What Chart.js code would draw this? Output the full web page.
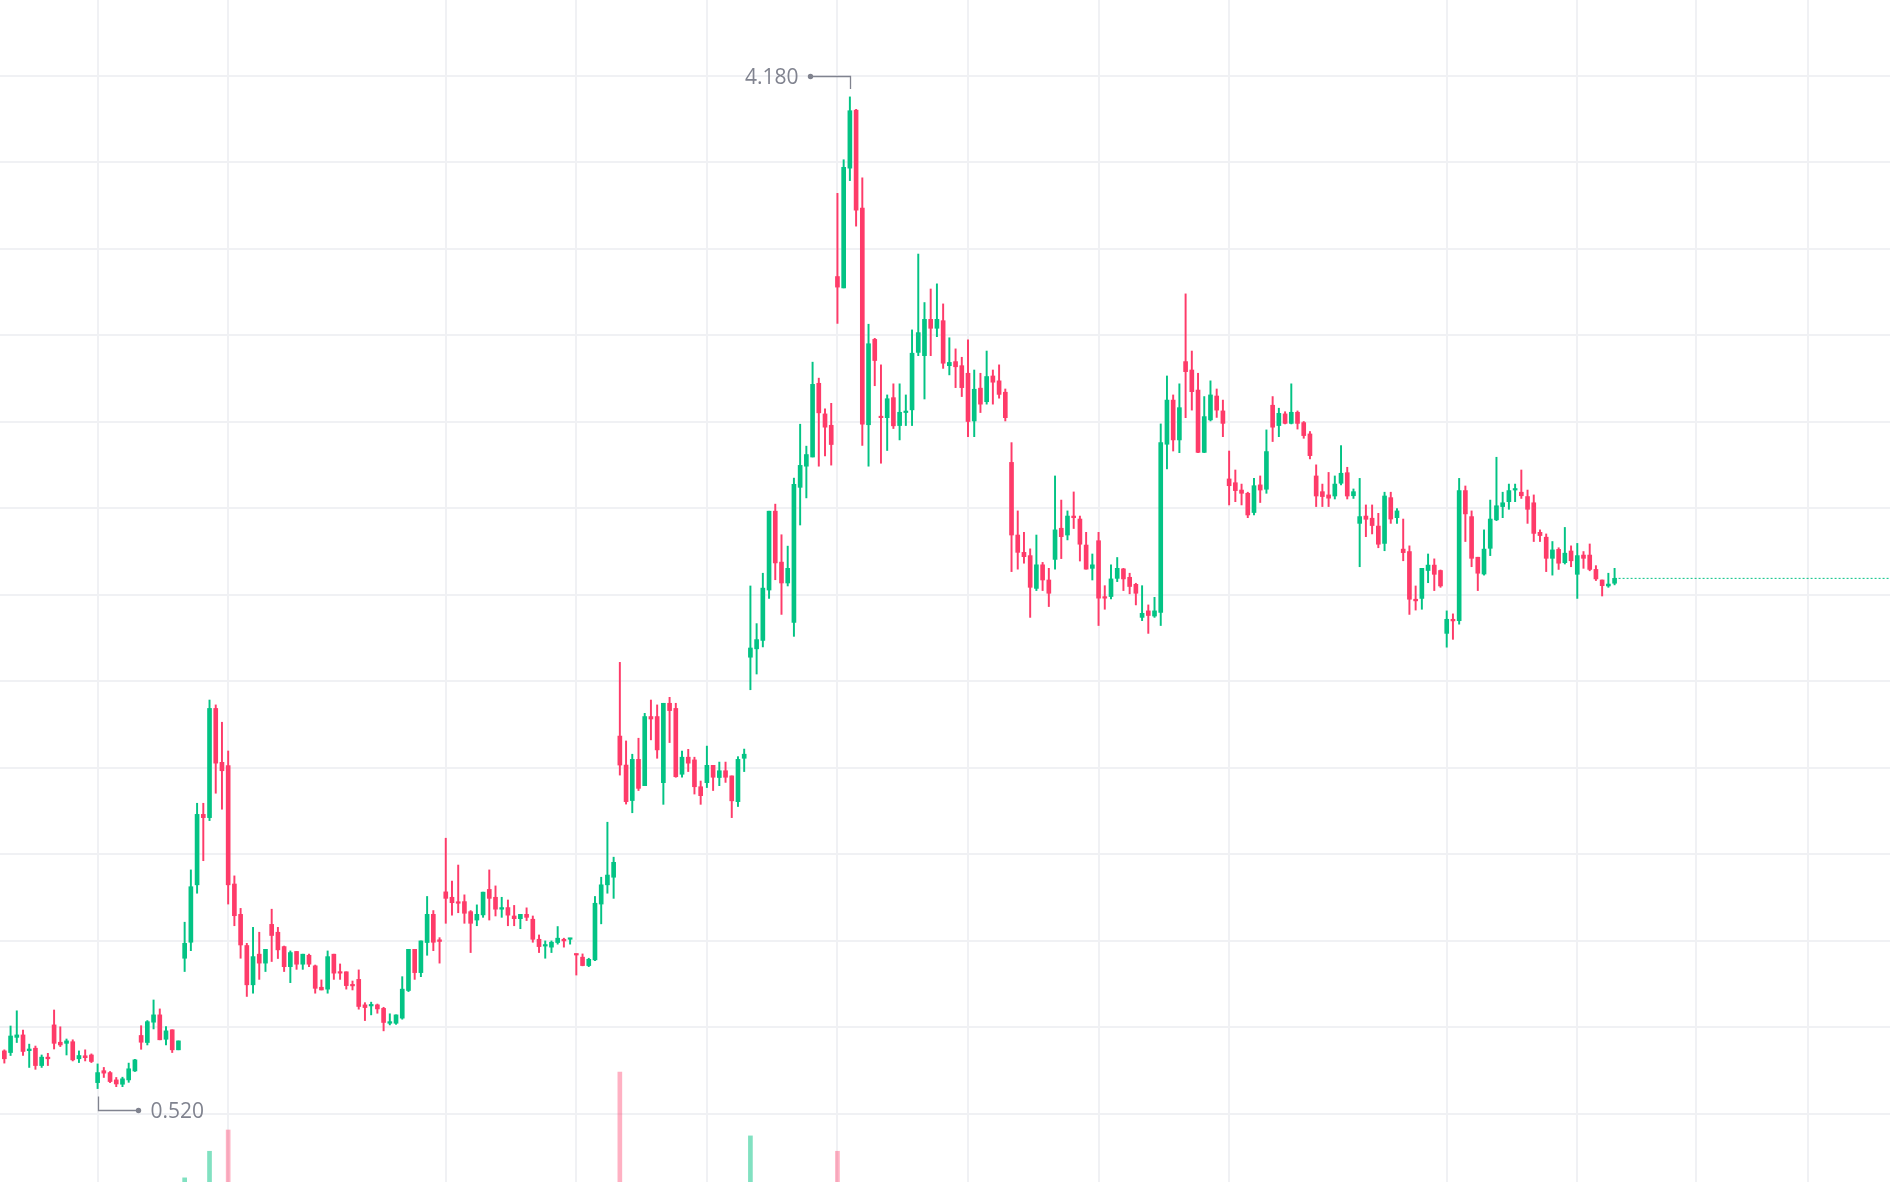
<!DOCTYPE html>
<html>
<head>
<meta charset="utf-8">
<title>Candles</title>
<script src="https://cdn.jsdelivr.net/npm/chart.js@4.4.1/dist/chart.umd.min.js"></script>
<style>
  html, body { margin: 0; padding: 0; background: #ffffff; }
  #wrap { position: relative; width: 1890px; height: 1182px; }
</style>
</head>
<body>
<div id="wrap"><canvas id="klineChart"></canvas></div>
<script>
// Candle values (index = candle number, left to right)
const opens = [0.659,0.653,0.709,0.718,0.660,0.669,0.605,0.636,0.755,0.691,0.687,0.693,0.630,0.641,0.644,0.542,0.586,0.579,0.552,0.536,
  0.552,0.585,0.716,0.690,0.765,0.792,0.702,0.737,0.663,1.001,1.060,1.272,1.532,1.520,1.923,1.724,1.712,1.275,1.163,1.048,
  0.903,1.016,0.983,1.126,1.097,1.044,0.970,1.026,0.979,1.012,0.973,0.894,0.887,1.016,0.951,0.951,0.903,0.923,0.829,0.825,
  0.829,0.816,0.761,0.761,0.780,0.882,1.034,0.948,1.059,1.163,1.069,1.246,1.226,1.208,1.210,1.173,1.142,1.161,1.255,1.226,
  1.182,1.188,1.157,1.147,1.163,1.145,1.071,1.046,1.042,1.059,1.071,1.071,1.017,1.005,0.974,0.995,1.201,1.272,1.300,1.821,
  1.714,1.583,1.735,1.638,1.893,1.893,1.649,1.942,1.923,1.680,1.743,1.733,1.634,1.649,1.713,1.668,1.693,1.674,1.579,1.739,
  2.112,2.143,2.174,2.360,2.651,2.463,2.386,2.240,2.739,2.817,2.851,3.123,3.010,2.968,3.517,3.475,3.917,4.131,3.770,2.970,
  3.285,2.999,2.996,3.070,2.967,3.015,3.025,3.237,3.225,3.359,3.326,3.354,3.188,3.203,3.188,3.160,2.984,3.105,3.055,3.150,
  3.132,3.090,2.831,2.563,2.499,2.487,2.366,2.453,2.397,2.473,2.588,2.563,2.633,2.622,2.526,2.440,2.542,2.333,2.336,2.403,
  2.438,2.407,2.381,2.259,2.283,2.264,2.277,2.898,3.061,2.914,3.203,3.172,3.098,2.868,2.988,3.076,3.021,2.770,2.756,2.729,
  2.717,2.646,2.748,2.732,3.042,2.967,3.010,2.975,3.016,2.978,2.936,2.781,2.723,2.711,2.707,2.754,2.793,2.708,2.606,2.633,
  2.625,2.596,2.532,2.701,2.627,2.511,2.502,2.326,2.329,2.432,2.452,2.432,2.200,2.252,2.247,2.727,2.631,2.481,2.419,2.514,
  2.619,2.668,2.686,2.729,2.721,2.705,2.682,2.573,2.555,2.477,2.510,2.461,2.504,2.418,2.489,2.489,2.436,2.397,2.375,2.385];
const highs = [0.663,0.751,0.807,0.736,0.684,0.677,0.644,0.650,0.810,0.748,0.703,0.700,0.659,0.663,0.648,0.611,0.598,0.583,0.561,0.562,
  0.614,0.628,0.752,0.771,0.847,0.814,0.749,0.737,0.696,1.134,1.327,1.573,1.573,1.954,1.936,1.872,1.766,1.305,1.185,1.056,
  1.115,1.097,1.034,1.182,1.115,1.046,1.028,1.026,1.016,1.016,0.976,0.921,1.028,1.016,0.980,0.951,0.917,0.958,0.837,0.839,
  0.832,0.820,0.796,0.792,0.933,1.034,1.034,1.065,1.229,1.177,1.077,1.444,1.286,1.345,1.235,1.177,1.198,1.245,1.327,1.268,
  1.226,1.216,1.196,1.163,1.187,1.157,1.087,1.065,1.065,1.118,1.075,1.075,1.017,1.017,1.001,1.229,1.300,1.503,1.374,2.093,
  1.803,1.754,1.813,1.905,1.954,1.936,1.942,1.964,1.942,1.766,1.772,1.743,1.655,1.784,1.713,1.725,1.725,1.674,1.745,1.773,
  2.375,2.236,2.422,2.651,2.677,2.564,2.522,2.773,2.972,2.891,3.201,3.142,3.029,3.049,3.824,3.948,4.180,4.134,3.881,3.341,
  3.289,3.191,3.080,3.121,3.121,3.080,3.320,3.600,3.421,3.471,3.490,3.416,3.291,3.250,3.219,3.283,3.172,3.160,3.242,3.172,
  3.191,3.102,2.904,2.652,2.573,2.512,2.563,2.462,2.440,2.781,2.692,2.652,2.722,2.633,2.573,2.493,2.573,2.376,2.453,2.480,
  2.440,2.422,2.385,2.376,2.305,2.333,2.973,3.150,3.080,3.121,3.453,3.242,3.160,3.074,3.132,3.102,3.061,2.873,2.803,2.751,
  2.721,2.772,2.781,2.951,3.074,3.031,3.018,3.121,3.021,2.982,2.945,2.822,2.751,2.794,2.781,2.893,2.813,2.733,2.772,2.674,
  2.674,2.643,2.721,2.721,2.661,2.622,2.523,2.375,2.440,2.493,2.475,2.434,2.283,2.272,2.772,2.744,2.652,2.481,2.582,2.692,
  2.850,2.721,2.751,2.751,2.803,2.729,2.711,2.582,2.567,2.539,2.516,2.591,2.523,2.532,2.502,2.530,2.450,2.397,2.422,2.440];
const lows = [0.614,0.642,0.690,0.642,0.598,0.591,0.598,0.605,0.666,0.675,0.644,0.622,0.616,0.622,0.616,0.520,0.561,0.542,0.527,0.527,
  0.543,0.583,0.665,0.681,0.740,0.700,0.681,0.653,0.663,0.952,1.029,1.241,1.361,1.509,1.610,1.551,1.201,1.121,1.001,0.860,
  0.872,0.923,0.952,0.989,1.000,0.952,0.911,0.960,0.960,0.970,0.872,0.884,0.872,0.923,0.923,0.887,0.884,0.813,0.771,0.792,
  0.798,0.733,0.755,0.757,0.776,0.878,0.923,0.933,1.012,1.029,0.983,1.130,1.160,1.169,1.130,1.022,1.121,1.152,1.142,1.157,
  1.152,1.121,1.121,1.110,1.140,1.060,1.022,1.001,1.022,1.053,1.042,1.053,0.939,0.973,0.970,0.992,1.128,1.241,1.222,1.677,
  1.570,1.538,1.620,1.638,1.807,1.739,1.569,1.797,1.669,1.669,1.690,1.607,1.569,1.631,1.620,1.638,1.650,1.520,1.561,1.690,
  1.992,2.050,2.150,2.329,2.398,2.270,2.375,2.189,2.600,2.700,2.851,2.817,2.855,2.821,3.344,3.475,3.871,3.703,2.894,2.817,
  3.114,2.828,2.875,2.956,2.914,2.967,2.967,3.225,3.065,3.225,3.295,3.178,3.154,3.107,3.074,2.926,2.926,3.015,3.046,3.046,
  3.068,2.984,2.428,2.437,2.459,2.259,2.358,2.358,2.299,2.437,2.476,2.545,2.587,2.467,2.437,2.397,2.229,2.289,2.327,2.391,
  2.358,2.346,2.305,2.247,2.200,2.259,2.229,2.807,2.873,2.867,2.996,3.024,2.867,2.867,2.984,2.997,2.926,2.674,2.686,2.674,
  2.627,2.637,2.683,2.717,2.908,2.926,2.973,2.973,2.954,2.920,2.844,2.668,2.668,2.668,2.696,2.748,2.696,2.698,2.446,2.557,
  2.567,2.516,2.505,2.606,2.606,2.468,2.270,2.286,2.289,2.387,2.358,2.370,2.149,2.178,2.234,2.539,2.446,2.358,2.415,2.487,
  2.616,2.627,2.658,2.686,2.698,2.606,2.539,2.539,2.428,2.415,2.436,2.456,2.446,2.329,2.440,2.431,2.395,2.338,2.370,2.379];
const closes = [0.630,0.714,0.718,0.657,0.666,0.605,0.636,0.630,0.687,0.681,0.696,0.626,0.642,0.634,0.620,0.579,0.577,0.546,0.537,0.556,
  0.593,0.626,0.691,0.767,0.792,0.700,0.733,0.663,0.696,1.056,1.265,1.532,1.520,1.923,1.721,1.693,1.272,1.158,1.050,0.903,
  1.007,0.983,1.034,1.085,1.032,0.970,1.022,0.979,1.016,0.979,0.890,0.884,1.007,0.946,0.946,0.900,0.899,0.823,0.819,0.829,
  0.814,0.764,0.767,0.792,0.887,1.034,0.948,1.065,1.163,1.060,1.063,1.222,1.206,1.204,1.167,1.130,1.163,1.245,1.222,1.182,
  1.188,1.160,1.147,1.163,1.152,1.071,1.044,1.050,1.060,1.075,1.065,1.075,1.013,0.974,0.997,1.204,1.272,1.308,1.355,1.714,
  1.579,1.735,1.628,1.893,1.884,1.770,1.942,1.915,1.671,1.743,1.721,1.634,1.601,1.713,1.669,1.693,1.669,1.582,1.735,1.754,
  2.146,2.177,2.367,2.651,2.460,2.386,2.440,2.750,2.820,2.860,3.119,3.014,2.961,2.897,3.478,3.920,4.129,3.762,2.972,3.269,
  3.207,2.996,3.066,2.966,3.016,3.019,3.234,3.310,3.359,3.326,3.359,3.197,3.200,3.184,3.107,2.982,3.101,3.046,3.148,3.127,
  3.082,2.996,2.563,2.499,2.483,2.370,2.453,2.397,2.348,2.582,2.557,2.633,2.627,2.529,2.437,2.453,2.330,2.330,2.401,2.440,
  2.401,2.373,2.348,2.274,2.266,2.283,2.904,3.061,2.914,3.033,3.166,3.092,2.868,3.000,3.080,3.024,2.975,2.745,2.727,2.717,
  2.637,2.745,2.729,2.871,2.961,3.012,2.975,3.016,2.975,2.930,2.856,2.707,2.705,2.699,2.751,2.791,2.707,2.723,2.631,2.621,
  2.598,2.529,2.707,2.622,2.652,2.498,2.326,2.320,2.440,2.452,2.418,2.375,2.252,2.246,2.727,2.641,2.477,2.422,2.511,2.622,
  2.671,2.682,2.727,2.732,2.708,2.658,2.569,2.561,2.477,2.508,2.459,2.496,2.468,2.487,2.477,2.436,2.401,2.376,2.382,2.403];

// Volume bars that reach into the visible area
const volIndex = [29, 33, 36, 99, 120, 134];
const volValue = [3.5, 26, 44, 93, 39, 26];

// Grid lines (the axis labels themselves are not shown)
const priceGrid = [4.258, 3.939, 3.619, 3.300, 2.981, 2.662, 2.343, 2.023, 1.704, 1.385, 1.066, 0.746, 0.427];
const timeGrid = [15, 36, 71, 92, 113, 134, 155, 176, 197, 232, 253, 272.1, 290.1];

const UP = "#03c384";
const DOWN = "#fe3b69";
const UP_VOL = "rgba(3, 195, 132, 0.5)";
const DOWN_VOL = "rgba(254, 59, 105, 0.4)";
const MARK = "#80838f";
const GRID = "#f0f1f4";

const X_MIN = -0.7;
const X_MAX = 303.3;

function candleColor(i) {
  return closes[i] >= opens[i] ? UP : DOWN;
}

// high / low markers with a small bracket and the price
const extremaMarks = {
  id: "extremaMarks",
  afterDatasetsDraw(chart) {
    const { ctx } = chart;
    const xs = chart.scales.x;
    const ys = chart.scales.y;
    const hiVal = Math.max(...highs);
    const loVal = Math.min(...lows);
    // middle of the drawn candles decides which way a label points
    const mid = (xs.getPixelForValue(0) + xs.getPixelForValue(closes.length - 1)) / 2;
    drawMark(highs.indexOf(hiVal), hiVal, -1);
    drawMark(lows.indexOf(loVal), loVal, 1);

    function drawMark(i, v, dir) {
      const px = Math.round(xs.getPixelForValue(i)) + 0.5;
      const py = ys.getPixelForValue(v);
      const y1 = py + dir * 8;
      const y2 = Math.round(py + dir * 21) + 0.5;
      const side = px > mid ? -1 : 1;
      const dotX = px + side * 40;
      ctx.save();
      ctx.strokeStyle = MARK;
      ctx.fillStyle = MARK;
      ctx.lineWidth = 1.3;
      ctx.beginPath();
      ctx.moveTo(px, y1);
      ctx.lineTo(px, y2);
      ctx.lineTo(dotX, y2);
      ctx.stroke();
      ctx.beginPath();
      ctx.arc(dotX, y2, 2.7, 0, Math.PI * 2);
      ctx.fill();
      ctx.font = "21px 'Open Sans', 'Noto Sans', sans-serif";
      ctx.textAlign = side < 0 ? "right" : "left";
      ctx.textBaseline = "alphabetic";
      ctx.fillText(v.toFixed(3), dotX + side * 12, y2 + 7.5);
      ctx.restore();
    }
  },
};

function renderChart() {
  const ctx = document.getElementById("klineChart").getContext("2d");

  const bodies = opens.map((o, i) => ({ x: i, y: [o, closes[i]] }));
  const wicks = lows.map((l, i) => ({ x: i, y: [l, highs[i]] }));
  const colors = opens.map((o, i) => candleColor(i));
  const volumes = volIndex.map((idx, k) => ({ x: idx, y: volValue[k] }));
  const volColors = volIndex.map((idx) => (closes[idx] >= opens[idx] ? UP_VOL : DOWN_VOL));
  const last = closes.length - 1;

  new Chart(ctx, {
    type: "bar",
    data: {
      datasets: [
        {
          label: "body",
          data: bodies,
          backgroundColor: colors,
          barThickness: 4,
          minBarLength: 1.5,
          grouped: false,
          borderWidth: 0,
          order: 1,
        },
        {
          label: "wick",
          data: wicks,
          backgroundColor: colors,
          barThickness: 1.3,
          grouped: false,
          borderWidth: 0,
          order: 2,
        },
        {
          label: "volume",
          data: volumes,
          backgroundColor: volColors,
          barThickness: 4,
          grouped: false,
          borderWidth: 0,
          yAxisID: "yv",
          order: 3,
        },
        {
          type: "line",
          label: "last",
          data: [{ x: last, y: closes[last] }, { x: X_MAX, y: closes[last] }],
          borderColor: UP,
          borderWidth: 1,
          borderDash: [2, 2],
          pointRadius: 0,
          order: 0,
        },
      ],
    },
    options: {
      responsive: true,
      maintainAspectRatio: false,
      animation: false,
      events: [],
      layout: { padding: 0 },
      plugins: {
        legend: { display: false },
        tooltip: { enabled: false },
      },
      scales: {
        x: {
          type: "linear",
          min: X_MIN,
          max: X_MAX,
          offset: false,
          afterBuildTicks: (scale) => {
            scale.ticks = timeGrid.map((v) => ({ value: v }));
          },
          ticks: { display: false },
          grid: { color: GRID, lineWidth: 2, drawTicks: false, offset: false },
          border: { display: false },
        },
        y: {
          type: "linear",
          min: 0.1752,
          max: 4.5376,
          afterBuildTicks: (scale) => {
            scale.ticks = priceGrid.map((v) => ({ value: v }));
          },
          ticks: { display: false },
          grid: { color: GRID, lineWidth: 2, drawTicks: false },
          border: { display: false },
        },
        yv: {
          type: "linear",
          display: false,
          min: 0,
          max: 1000,
        },
      },
    },
    plugins: [extremaMarks],
  });
}

document.addEventListener("DOMContentLoaded", () => {
  renderChart();
});
</script>
</body>
</html>
